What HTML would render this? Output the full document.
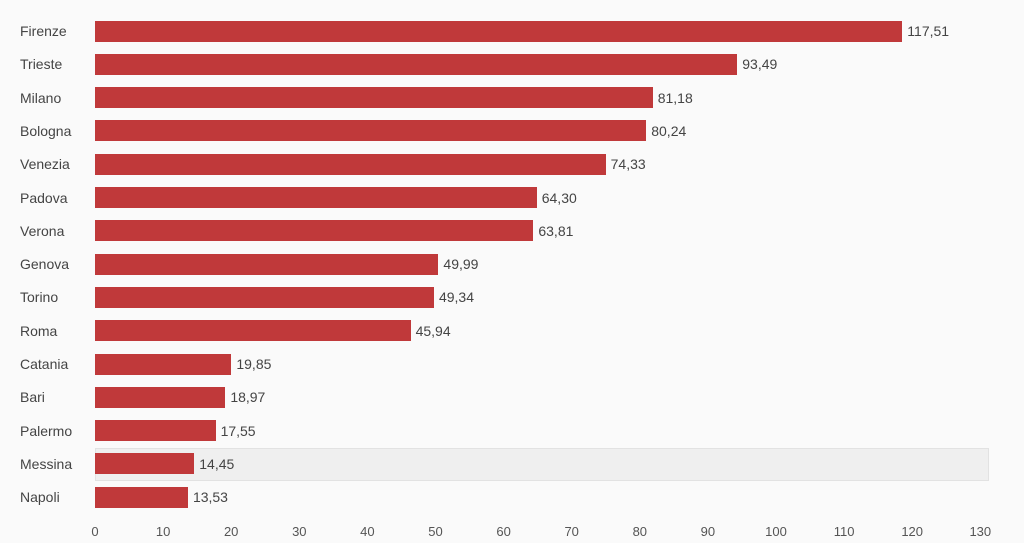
<!DOCTYPE html>
<html><head><meta charset="utf-8"><style>
body{margin:0;width:1024px;height:543px;background:#fafafa;overflow:hidden;font-family:"Liberation Sans",sans-serif;color:#444;position:relative}
.l{position:absolute;left:20px;font-size:14px;line-height:16px}
.b{position:absolute;left:95px;height:21px;background:#c0393a}
.v{position:absolute;font-size:14px;line-height:16px}
.t{position:absolute;top:524px;font-size:13px;width:30px;margin-left:-15px;text-align:center;color:#555}
</style></head><body>
<div style="position:absolute;left:95px;top:448px;width:894px;height:33px;background:#efefef;border:1px solid #e2e2e2;box-sizing:border-box"></div>
<div id="c"></div>
<script>
var d=[["Firenze",117.51],["Trieste",93.49],["Milano",81.18],["Bologna",80.24],["Venezia",74.33],["Padova",64.30],["Verona",63.81],["Genova",49.99],["Torino",49.34],["Roma",45.94],["Catania",19.85],["Bari",18.97],["Palermo",17.55],["Messina",14.45],["Napoli",13.53]];
var h="",s=6.87;
d.forEach(function(r,i){var cy=31+i*33.3,w=r[1]*s;
h+='<div class="l" style="top:'+(cy-8)+'px">'+r[0]+'</div>';
h+='<div class="b" style="top:'+(cy-10.5)+'px;width:'+w+'px"></div>';
h+='<div class="v" style="top:'+(cy-8)+'px;left:'+(95+w+5)+'px">'+r[1].toFixed(2).replace(".",",")+'</div>';});
for(var t=0;t<=130;t+=10)h+='<div class="t" style="left:'+(95+t*6.81)+'px">'+t+'</div>';
document.getElementById("c").innerHTML=h;
</script>
</body></html>
